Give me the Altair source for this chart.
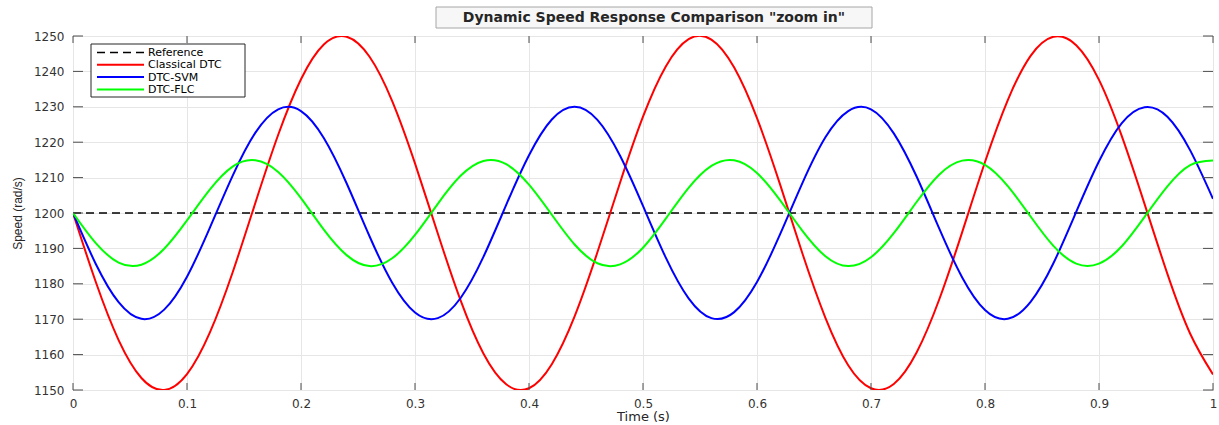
import altair as alt
import pandas as pd

# ---------------- data ----------------
time_s = [0.00, 0.02, 0.04, 0.06, 0.08, 0.10, 0.12, 0.14, 0.16, 0.18,
          0.20, 0.22, 0.24, 0.26, 0.28, 0.30, 0.32, 0.34, 0.36, 0.38,
          0.40, 0.42, 0.44, 0.46, 0.48, 0.50, 0.52, 0.54, 0.56, 0.58,
          0.60, 0.62, 0.64, 0.66, 0.68, 0.70, 0.72, 0.74, 0.76, 0.78,
          0.80, 0.82, 0.84, 0.86, 0.88, 0.90, 0.92, 0.94, 0.96, 0.98, 1.00]

classical_dtc = [1200.0, 1180.5, 1164.1, 1153.4, 1150.0, 1154.5, 1166.2, 1183.2, 1202.9, 1222.1,
                 1237.8, 1247.6, 1249.8, 1244.2, 1231.6, 1214.0, 1194.2, 1175.3, 1160.3, 1151.6,
                 1150.5, 1157.3, 1170.8, 1188.9, 1208.7, 1227.2, 1241.4, 1249.1, 1249.0, 1241.1,
                 1226.8, 1208.3, 1188.4, 1170.4, 1157.0, 1150.5, 1151.7, 1160.6, 1175.7, 1194.6,
                 1214.4, 1231.9, 1244.4, 1249.8, 1247.4, 1237.6, 1221.7, 1202.5, 1182.8, 1165.9, 1154.4]

dtc_svm = [1200.0, 1185.6, 1174.8, 1170.1, 1172.7, 1182.0, 1195.8, 1210.5, 1222.7, 1229.3,
           1228.8, 1221.2, 1208.4, 1193.5, 1180.3, 1171.9, 1170.3, 1176.0, 1187.6, 1202.3,
           1216.3, 1226.4, 1230.0, 1226.3, 1216.1, 1202.0, 1187.4, 1175.9, 1170.3, 1172.0,
           1180.5, 1193.8, 1208.6, 1221.4, 1228.8, 1229.3, 1222.5, 1210.3, 1195.5, 1181.8,
           1172.6, 1170.1, 1174.9, 1185.8, 1200.3, 1214.6, 1225.4, 1229.9, 1227.2, 1217.7, 1204.0]

dtc_flc = [1200.0, 1191.5, 1186.0, 1185.4, 1189.9, 1197.9, 1206.6, 1213.1, 1214.9, 1211.6,
           1204.2, 1195.3, 1188.1, 1185.0, 1187.2, 1193.8, 1202.6, 1210.5, 1214.7, 1213.8,
           1208.0, 1199.5, 1191.1, 1185.8, 1185.5, 1190.2, 1198.4, 1207.1, 1213.3, 1214.9,
           1211.3, 1203.7, 1194.9, 1187.8, 1185.0, 1187.5, 1194.3, 1203.1, 1210.9, 1214.8,
           1213.6, 1207.6, 1199.0, 1190.7, 1185.7, 1185.7, 1190.6, 1198.9, 1207.5, 1213.5, 1214.8]

reference_t = [0.0, 1.0]
reference_v = [1200.0, 1200.0]

x_ticks = [0, 0.1, 0.2, 0.3, 0.4, 0.5, 0.6, 0.7, 0.8, 0.9, 1]
y_ticks = [1150, 1160, 1170, 1180, 1190, 1200, 1210, 1220, 1230, 1240, 1250]

series_names = ["Reference", "Classical DTC", "DTC-SVM", "DTC-FLC"]
series_colors = ["#000000", "#ff0000", "#0000ff", "#00ff00"]

title_text = 'Dynamic Speed Response Comparison "zoom in"'

# ---------------- layout ----------------
W, H = 1140, 354
FONT = "DejaVu Sans"

x_enc = alt.X(
    "t:Q",
    scale=alt.Scale(domain=[0, 1], nice=False, zero=False),
    axis=alt.Axis(
        values=x_ticks, format="~g", title="Time (s)",
        grid=True, gridColor="#e6e6e6", ticks=False, domain=False, labelFlush=False,
        labelFont=FONT, labelFontSize=12, labelColor="#333333", labelPadding=8,
        titleFont=FONT, titleFontSize=13, titleFontWeight="normal", titleColor="#262626",
        titleX=W / 2, titleY=26, titleBaseline="middle",
    ),
)
y_enc = alt.Y(
    "v:Q",
    scale=alt.Scale(domain=[1150, 1250], nice=False, zero=False),
    axis=alt.Axis(
        values=y_ticks, format="d", title="Speed (rad/s)",
        grid=True, gridColor="#e6e6e6", ticks=False, domain=False, labelFlush=False,
        labelFont=FONT, labelFontSize=12, labelColor="#333333", labelPadding=9,
        titleFont="Liberation Sans", titleFontSize=12, titleFontWeight="normal", titleColor="#262626",
        titleX=-56, titleY=H / 2, titleBaseline="middle",
    ),
)


def line_layer(ts, vs, color, dash=None):
    df = pd.DataFrame({"t": ts, "v": vs})
    kw = dict(color=color, strokeWidth=2, interpolate="natural", clip=True)
    if dash:
        kw["strokeDash"] = dash
        kw["strokeWidth"] = 1.7
        kw["interpolate"] = "linear"
    return alt.Chart(df).mark_line(**kw).encode(x=x_enc, y=y_enc)


ref_line = line_layer(reference_t, reference_v, series_colors[0], dash=[8, 5])
classical = line_layer(time_s, classical_dtc, series_colors[1])
svm = line_layer(time_s, dtc_svm, series_colors[2])
flc = line_layer(time_s, dtc_flc, series_colors[3])

# inward ticks on all four sides (MATLAB box style)
xt = pd.DataFrame({"t": x_ticks})
yt = pd.DataFrame({"v": y_ticks})
tick_color = "#4d4d4d"
xt_bottom = alt.Chart(xt).mark_rule(color=tick_color).encode(x=x_enc, y=alt.value(H), y2=alt.value(H - 7))
xt_top = alt.Chart(xt).mark_rule(color=tick_color).encode(x=x_enc, y=alt.value(0), y2=alt.value(7))
yt_left = alt.Chart(yt).mark_rule(color=tick_color).encode(y=y_enc, x=alt.value(0), x2=alt.value(10))
yt_right = alt.Chart(yt).mark_rule(color=tick_color).encode(y=y_enc, x=alt.value(W - 10), x2=alt.value(W))

# boxed title
one = pd.DataFrame({"k": [title_text]})
title_box = alt.Chart(one).mark_rect(fill="#f7f7f7", stroke="#a6a6a6", strokeWidth=1).encode(
    x=alt.value(363), x2=alt.value(799), y=alt.value(-29), y2=alt.value(-8))
title_mark = alt.Chart(one).mark_text(
    font=FONT, fontSize=14, fontWeight="bold", color="#262626", align="center", baseline="middle"
).encode(text="k:N", x=alt.value(581), y=alt.value(-18.5))

# legend
leg_df = pd.DataFrame({"k": ["legend"]})
legend_layers = [
    alt.Chart(leg_df).mark_rect(fill="white", stroke="#262626", strokeWidth=1).encode(
        x=alt.value(18), x2=alt.value(172), y=alt.value(8), y2=alt.value(61))
]
row_y = [16.5, 28.8, 41.1, 53.4]
for i, (name, col) in enumerate(zip(series_names, series_colors)):
    rule_kw = dict(color=col, strokeWidth=2)
    if name == "Reference":
        rule_kw["strokeDash"] = [8, 5]
        rule_kw["strokeWidth"] = 1.7
    legend_layers.append(
        alt.Chart(leg_df).mark_rule(**rule_kw).encode(
            x=alt.value(24), x2=alt.value(71), y=alt.value(row_y[i])))
    name_df = pd.DataFrame({"n": [name]})
    legend_layers.append(
        alt.Chart(name_df).mark_text(font=FONT, fontSize=11, color="#000000",
                                     align="left", baseline="middle").encode(
            text="n:N", x=alt.value(75), y=alt.value(row_y[i] + 0.5)))

chart = alt.layer(
    ref_line, classical, svm, flc,
    xt_bottom, xt_top, yt_left, yt_right,
    title_box, title_mark,
    *legend_layers,
).properties(
    width=W, height=H,
    autosize=alt.AutoSizeParams(type="none"),
    padding={"left": 73, "top": 36, "right": 6, "bottom": 35},
    background="white",
).configure_view(stroke="#555555", strokeWidth=1)

chart.save("out.html", embed_options={"renderer": "svg", "actions": False})
